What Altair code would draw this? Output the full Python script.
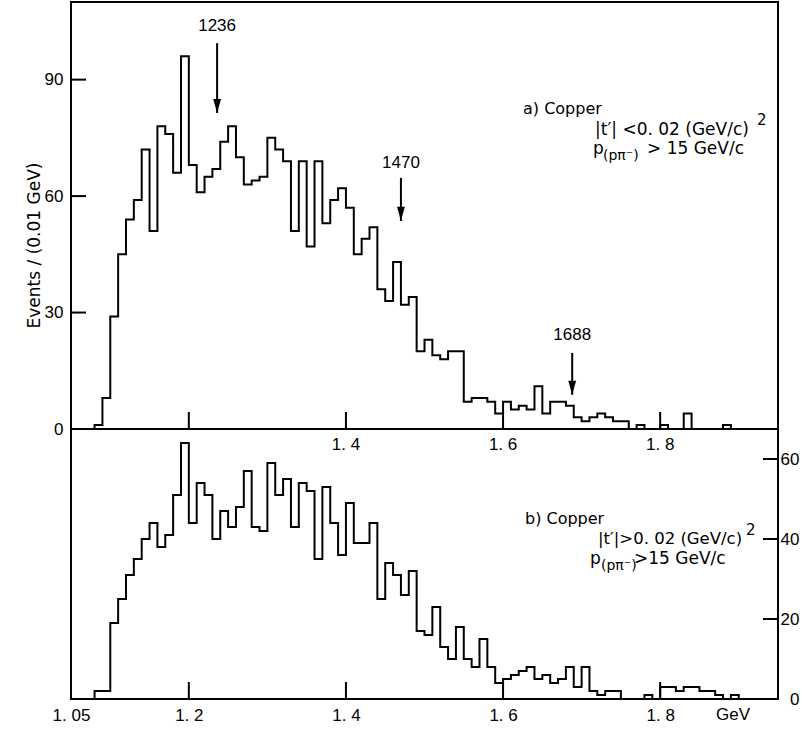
import altair as alt
import pandas as pd

FONT = "Liberation Sans"
NOTE_FONT = "DejaVu Sans"

# Histogram binning (GeV): first filled bin and bin width
first_bin = 1.08
bin_width = 0.01

# a) Copper, |t'| < 0.02 (GeV/c)^2 : events per bin from 1.08 GeV upward
counts_a = [1, 8, 29, 45, 54, 59, 72, 51, 78, 76,
            66, 96, 68, 61, 65, 67, 74, 78, 70, 63,
            64, 65, 75, 72, 69, 51, 69, 47, 69, 53,
            59, 62, 57, 45, 49, 52, 36, 33, 43, 32,
            34, 20, 23, 19, 18, 20, 20, 7, 8, 8,
            7, 4, 7, 5, 6, 5, 11, 4, 7, 7,
            6, 3, 2, 3, 4, 3, 2, 2, 0, 1,
            0, 0, 1, 0, 0, 4, 0, 0, 0, 0,
            1]

# b) Copper, |t'| > 0.02 (GeV/c)^2 : events per bin from 1.08 GeV upward
counts_b = [2, 2, 19, 25, 31, 35, 40, 44, 38, 41,
            51, 64, 44, 54, 51, 40, 47, 43, 48, 57,
            43, 42, 59, 51, 55, 43, 54, 52, 35, 53,
            44, 36, 49, 39, 39, 44, 25, 34, 31, 26,
            32, 17, 16, 23, 13, 10, 18, 10, 8, 15,
            8, 4, 5, 6, 7, 8, 5, 6, 4, 5,
            8, 3, 8, 2, 1, 2, 2, 0, 0, 0,
            1, 0, 3, 3, 2, 3, 3, 2, 2, 1,
            0, 1]

# Resonance masses marked with arrows (MeV)
resonances = [1236, 1470, 1688]

# Axis ticks
mass_ticks = [1.2, 1.4, 1.6, 1.8]
bottom_labels = [1.05, 1.2, 1.4, 1.6, 1.8]
ticks_a = [0, 30, 60, 90]
ticks_b = [0, 20, 40, 60]

# ---- layout (pixels / axis units), kept apart from the data ----
W, H_A, H_B = 707, 427, 270
X_DOMAIN = [1.05, 1.95]
Y_A_MAX, Y_B_MAX = 110, 67.5
TICK_LEN = 15
arrow_label_y = [103.8, 68.5, 24.3]
arrow_from_y = [99.4, 64.7, 19.6]
arrow_to_y = [81.4, 53.6, 8.8]


def step_frame(counts):
    edges = [round(first_bin + i * bin_width, 2) for i in range(len(counts) + 1)]
    return pd.DataFrame({
        "m": [edges[0]] + edges,
        "n": [0] + list(counts) + [0],
        "i": list(range(len(counts) + 2)),
    })


def text_at(text, px, py, size=17, align="left", font=NOTE_FONT):
    return alt.Chart(pd.DataFrame({"k": [0]})).mark_text(
        text=text, align=align, baseline="middle", fontSize=size, font=font, color="black"
    ).encode(x=alt.value(px), y=alt.value(py))


x_scale = alt.Scale(domain=X_DOMAIN, nice=False, zero=False)

# ---------------- panel a ----------------
hist_a = alt.Chart(step_frame(counts_a)).mark_line(
    interpolate="step-after", color="black", strokeWidth=2
).encode(
    x=alt.X("m:Q", scale=x_scale, axis=None),
    y=alt.Y(
        "n:Q",
        scale=alt.Scale(domain=[0, Y_A_MAX], nice=False),
        axis=alt.Axis(
            values=ticks_a, ticks=False, domain=False, grid=False,
            labelPadding=8, labelFontSize=17,
            title="Events / (0.01 GeV)", titleFont=NOTE_FONT,
            titleFontSize=17, titleFontWeight="normal",
            titleX=-37, titleY=243, titleAngle=270,
            titleAlign="center", titleBaseline="middle",
        ),
    ),
    order="i:Q",
)

yticks_a = alt.Chart(pd.DataFrame({"n": ticks_a[1:]})).mark_rule(
    color="black", strokeWidth=2
).encode(y="n:Q", x=alt.value(0), x2=alt.value(TICK_LEN))

xticks_a = alt.Chart(pd.DataFrame({"m": mass_ticks})).mark_rule(
    color="black", strokeWidth=2
).encode(x="m:Q", y=alt.value(H_A), y2=alt.value(H_A - TICK_LEN - 2))

arrows = pd.DataFrame({
    "m": [r / 1000 for r in resonances],
    "label": [str(r) for r in resonances],
    "ly": arrow_label_y,
    "y0": arrow_from_y,
    "y1": arrow_to_y,
})
arrow_shaft = alt.Chart(arrows).mark_rule(color="black", strokeWidth=2).encode(
    x="m:Q", y="y0:Q", y2="y1:Q"
)
arrow_head = alt.Chart(arrows).mark_point(
    shape="M-0.55,-2 L0.55,-2 L0,0 Z", filled=True, size=200,
    color="black", opacity=1, strokeWidth=0,
).encode(x="m:Q", y="y1:Q")
arrow_text = alt.Chart(arrows).mark_text(
    fontSize=17, font=FONT, baseline="middle", color="black"
).encode(x="m:Q", y="ly:Q", text="label:N")

panel_a = alt.layer(
    hist_a, yticks_a, xticks_a, arrow_shaft, arrow_head, arrow_text,
    text_at("a) Copper", 452, 107, 16),
    text_at("|t′| <0. 02 (GeV/c)", 524, 128, 17),
    text_at("2", 686, 118, 15),
    text_at("p", 522, 147),
    text_at("(pπ⁻)", 532, 154, 14),
    text_at("> 15 GeV/c", 576, 147),
).properties(width=W, height=H_A)

# ---------------- panel b ----------------
hist_b = alt.Chart(step_frame(counts_b)).mark_line(
    interpolate="step-after", color="black", strokeWidth=2
).encode(
    x=alt.X(
        "m:Q", scale=x_scale,
        axis=alt.Axis(
            values=bottom_labels, ticks=False, domain=False, grid=False,
            labelPadding=8, labelFontSize=17, labelFlush=False,
            labelExpr="replace(format(datum.value, '.2~f'), '.', '. ')",
            title=None,
        ),
    ),
    y=alt.Y(
        "n:Q",
        scale=alt.Scale(domain=[0, Y_B_MAX], nice=False),
        axis=alt.Axis(
            orient="right", values=ticks_b, ticks=False, domain=False, grid=False,
            labelAlign="right", labelPadding=21, labelFontSize=17, title=None,
        ),
    ),
    order="i:Q",
)

yticks_b = alt.Chart(pd.DataFrame({"n": ticks_b[1:]})).mark_rule(
    color="black", strokeWidth=2
).encode(y="n:Q", x=alt.value(W - TICK_LEN), x2=alt.value(W))

xticks_b = alt.Chart(pd.DataFrame({"m": mass_ticks})).mark_rule(
    color="black", strokeWidth=2
).encode(x="m:Q", y=alt.value(H_B), y2=alt.value(H_B - TICK_LEN - 2))

# mass labels belonging to the upper panel's axis, printed just under it
upper_axis_labels = alt.Chart(pd.DataFrame({
    "m": mass_ticks[1:],
    "t": [f"{v:.1f}".replace(".", ". ") for v in mass_ticks[1:]],
})).mark_text(fontSize=17, font=FONT, baseline="middle", color="black").encode(
    x="m:Q", y=alt.value(16), text="t:N"
)

panel_b = alt.layer(
    hist_b, yticks_b, xticks_b, upper_axis_labels,
    text_at("b) Copper", 454, 90, 16),
    text_at("|t′|>0. 02 (GeV/c)", 527, 110, 16.5),
    text_at("2", 675, 101, 15),
    text_at("p", 519, 130),
    text_at("(pπ⁻)", 530, 137, 14),
    text_at(">15 GeV/c", 563, 130),
    text_at("GeV", 662, H_B + 16, 17, "center", FONT),
).properties(width=W, height=H_B)

chart = alt.vconcat(panel_a, panel_b, spacing=0, bounds="flush").properties(
    padding={"left": 24, "top": 1, "right": 2, "bottom": 4},
    background="white",
).configure_view(
    stroke="black", strokeWidth=2
).configure_axis(
    labelFont=FONT, titleFont=FONT, labelColor="black", titleColor="black"
)

chart.save("out.html", embed_options={"renderer": "svg", "actions": False})
